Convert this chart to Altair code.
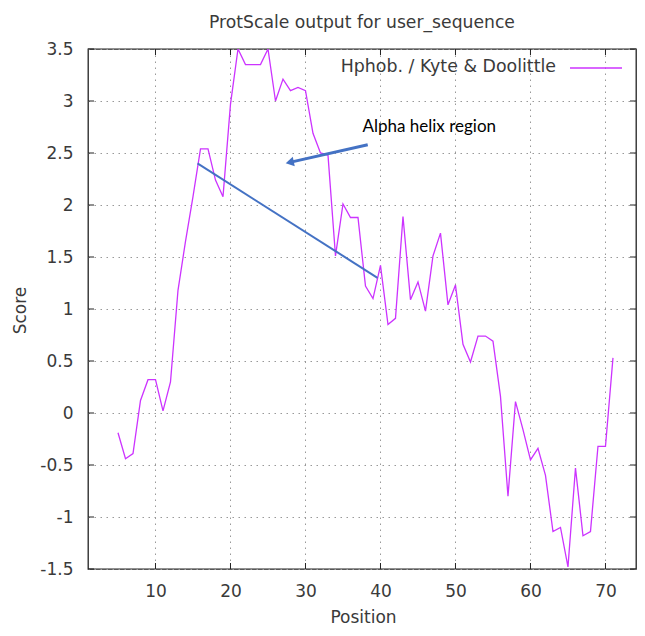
import altair as alt
import pandas as pd

# ---- data ----
positions = list(range(5, 72))
scores = [-0.19, -0.44, -0.39, 0.12, 0.32, 0.32, 0.02, 0.30, 1.18, 1.65,
          2.08, 2.54, 2.54, 2.24, 2.08, 2.97, 3.50, 3.35, 3.35, 3.35,
          3.50, 3.00, 3.21, 3.10, 3.13, 3.10, 2.69, 2.50, 2.48, 1.51,
          2.01, 1.88, 1.88, 1.22, 1.10, 1.42, 0.85, 0.91, 1.89, 1.09,
          1.26, 0.98, 1.51, 1.73, 1.04, 1.23, 0.66, 0.49, 0.74, 0.74,
          0.69, 0.16, -0.80, 0.11, -0.16, -0.45, -0.34, -0.60, -1.14, -1.10,
          -1.48, -0.53, -1.18, -1.14, -0.32, -0.32, 0.53]
x_ticks = [10, 20, 30, 40, 50, 60, 70]
y_ticks = [-1.5, -1, -0.5, 0, 0.5, 1, 1.5, 2, 2.5, 3, 3.5]
x_domain = [1, 74.07]
y_domain = [-1.5, 3.5]

helix_pos = [15.6]
helix_pos2 = [39.6]
helix_score = [2.40]
helix_score2 = [1.30]

arrow_pos = [38.3]
arrow_pos2 = [27.9]
arrow_score = [2.58]
arrow_score2 = [2.41]

note_text = ["Alpha helix region"]
note_pos = [37.6]
note_score = [2.75]

title_text = "ProtScale output for user_sequence"
legend_text = "Hphob. / Kyte & Doolittle"

W, H = 548, 520
FONT = "DejaVu Sans"
TXT = "#3a3a3a"
MAG = "#cc33ff"
BLUE = "#4472c4"

xs = alt.Scale(domain=x_domain, nice=False, zero=False)
ys = alt.Scale(domain=y_domain, nice=False, zero=False)

df = pd.DataFrame({"Position": positions, "Score": scores})
xt = pd.DataFrame({"Position": x_ticks})
yt = pd.DataFrame({"Score": y_ticks})
helix = pd.DataFrame({"Position": helix_pos, "Position2": helix_pos2,
                      "Score": helix_score, "Score2": helix_score2})
arrow = pd.DataFrame({"Position": arrow_pos, "Position2": arrow_pos2,
                      "Score": arrow_score, "Score2": arrow_score2})
head = pd.DataFrame({"Position": arrow_pos2, "Score": arrow_score2})
note = pd.DataFrame({"Position": note_pos, "Score": note_score, "t": note_text})
one = pd.DataFrame({"t": [legend_text]})

line = alt.Chart(df).mark_line(color=MAG, strokeWidth=1.3, clip=True).encode(
    x=alt.X("Position:Q", scale=xs,
            axis=alt.Axis(values=x_ticks, title="Position", labelPadding=14,
                          titleX=W / 2 + 1, titleY=48, titleAlign="center",
                          titleBaseline="middle")),
    y=alt.Y("Score:Q", scale=ys,
            axis=alt.Axis(values=y_ticks, labelExpr="'' + datum.value",
                          title="Score", labelPadding=15,
                          titleX=-68, titleY=261, titleAngle=270,
                          titleAlign="center", titleBaseline="middle")),
)

tick_b = alt.Chart(xt).mark_rule(color="#222", strokeWidth=1).encode(
    x="Position:Q", y=alt.value(H), y2=alt.value(H - 6))
tick_t = alt.Chart(xt).mark_rule(color="#222", strokeWidth=1).encode(
    x="Position:Q", y=alt.value(0), y2=alt.value(6))
tick_l = alt.Chart(yt).mark_rule(color="#222", strokeWidth=1).encode(
    y="Score:Q", x=alt.value(0), x2=alt.value(6))
tick_r = alt.Chart(yt).mark_rule(color="#222", strokeWidth=1).encode(
    y="Score:Q", x=alt.value(W), x2=alt.value(W - 6))

helix_line = alt.Chart(helix).mark_rule(color=BLUE, strokeWidth=2).encode(
    x="Position:Q", x2="Position2:Q", y="Score:Q", y2="Score2:Q")
arrow_line = alt.Chart(arrow).mark_rule(color=BLUE, strokeWidth=3).encode(
    x="Position:Q", x2="Position2:Q", y="Score:Q", y2="Score2:Q")
arrow_head = alt.Chart(head).mark_point(shape="triangle-left", filled=True,
                                        size=90, angle=348, opacity=1,
                                        color=BLUE).encode(
    x="Position:Q", y="Score:Q")
note_mark = alt.Chart(note).mark_text(align="left", baseline="middle",
                                      font="Lato", fontSize=17,
                                      color="#000000").encode(
    x="Position:Q", y="Score:Q", text="t:N")

leg_text = alt.Chart(one).mark_text(align="right", baseline="middle",
                                    font=FONT, fontSize=17.4, color=TXT).encode(
    x=alt.value(468), y=alt.value(18), text="t:N")
leg_line = alt.Chart(one).mark_rule(color=MAG, strokeWidth=1.3).encode(
    x=alt.value(482), x2=alt.value(534), y=alt.value(19))

chart = alt.layer(
    line, tick_b, tick_t, tick_l, tick_r, helix_line, arrow_line,
    arrow_head, note_mark, leg_text, leg_line
).properties(
    width=W, height=H,
    background="white",
    autosize=alt.AutoSizeParams(type="none"),
    padding={"left": 80, "top": 41, "right": 1, "bottom": 59},
    title=alt.TitleParams(title_text, font=FONT, fontSize=17.2,
                          fontWeight="normal", color=TXT, anchor="middle",
                          offset=9),
).configure_view(
    stroke="#222", strokeWidth=1.3
).configure_axis(
    domain=False, ticks=False, grid=True, gridColor="#999999",
    gridDash=[1.5, 4.5], gridWidth=1, labelFont=FONT, labelFontSize=17,
    labelColor=TXT, titleFont=FONT, titleFontSize=17,
    titleFontWeight="normal", titleColor=TXT
)

chart.save("out.html", embed_options={"renderer": "svg", "actions": False})
